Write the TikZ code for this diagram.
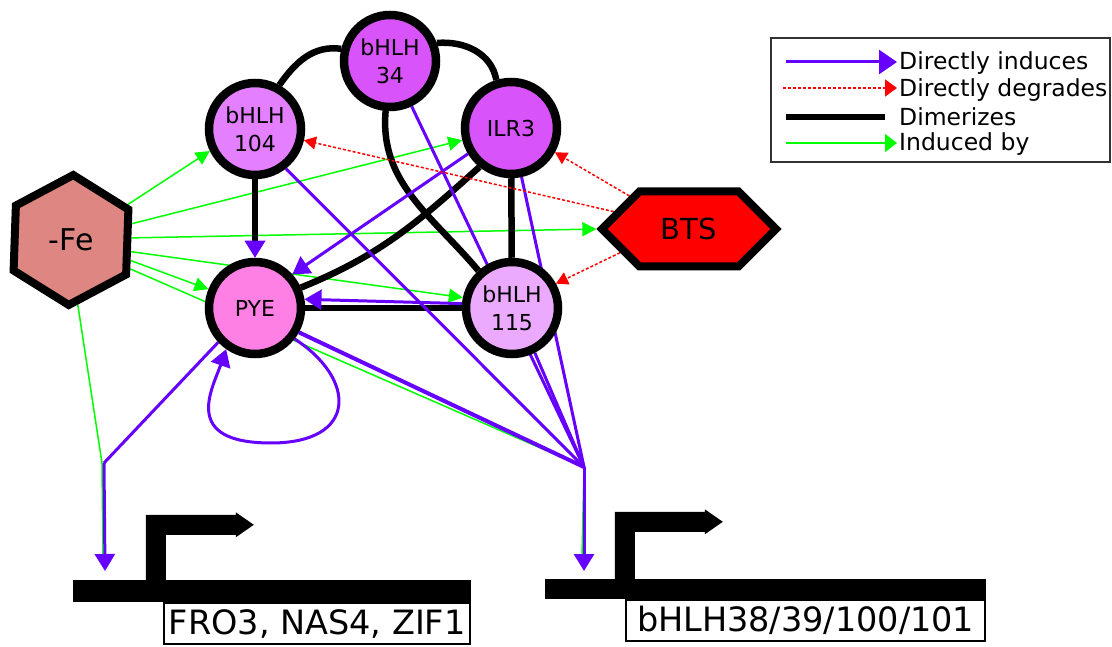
\documentclass[tikz,border=0pt]{standalone}
\usepackage{fontspec}
\setmainfont{DejaVu Sans}
\usepackage{tikz}
\usetikzlibrary{shapes.geometric, shapes.symbols, arrows.meta, positioning, calc}
\definecolor{indpurple}{RGB}{102,0,255}
\definecolor{degred}{RGB}{255,0,0}
\definecolor{indgreen}{RGB}{0,255,0}
\definecolor{fefill}{RGB}{221,134,130}
\definecolor{tfdark}{RGB}{216,84,250}
\definecolor{tfmid}{RGB}{228,128,255}
\definecolor{tfpink}{RGB}{255,128,229}
\definecolor{tflight}{RGB}{236,170,255}
\pgfdeclarelayer{bg}
\pgfsetlayers{bg,main}
\tikzset{
  tf/.style={circle, draw=black, line width=8.5pt, minimum size=92pt, inner sep=0pt, align=center,
    font=\fontsize{22}{28}\selectfont},
  genebar/.style={rectangle, fill=black, inner sep=0pt},
  genelbl/.style={rectangle, draw=black, fill=white, line width=2pt, inner xsep=4pt, inner ysep=6pt,
    font=\fontsize{33.5}{36}\selectfont},
  legtxt/.style={anchor=base west, inner sep=0pt, font=\fontsize{23.5}{26}\selectfont}
}

\begin{document}
\begin{tikzpicture}[
  x=1pt, y=1pt,
  ind/.style={draw=indpurple, line width=3pt},
  indarr/.style={ind, -{Triangle[length=17pt, width=20pt]}},
  deg/.style={draw=degred, line width=1.5pt, dash pattern=on 3pt off 2pt, -{Triangle[length=12pt, width=13pt]}},
  dim/.style={draw=black, line width=6.5pt},
  byfe/.style={draw=indgreen, line width=1.5pt},
  byfearr/.style={byfe, -{Triangle[length=14pt, width=14pt]}}
]
\useasboundingbox (0,0) rectangle (1112,646);

%--- transcription factors ---
\node[tf, fill=tfdark]  (b34)  at (390,585) {bHLH\\34};
\node[tf, fill=tfmid]   (b104) at (255,517) {bHLH\\104};
\node[tf, fill=tfdark]  (ilr3) at (511,518) {ILR3};
\node[tf, fill=tfpink]  (pye)  at (255,338) {PYE};
\node[tf, fill=tflight] (b115) at (512,338) {bHLH\\115};

%--- signal and E3 ligase ---
\node[regular polygon, regular polygon sides=6, shape border rotate=28, draw=black, line width=8pt,
  fill=fefill, minimum size=130pt, inner sep=0pt, font=\fontsize{30}{32}\selectfont] (fe) at (71,406) {-Fe};
\node[signal, signal to=west and east, draw=black, line width=8pt, fill=degred,
  minimum width=174pt, minimum height=75pt, font=\fontsize{29}{32}\selectfont] (bts) at (689,417) {BTS};

%--- target genes ---
\node[genebar, minimum width=398pt, minimum height=22pt] (barL) at (272,55) {};
\node[genebar, minimum width=441pt, minimum height=20pt] (barR) at (765.5,57) {};
\node[genelbl, below left=0pt and 0pt of barL.south east, minimum width=306pt] (lblL) {FRO3, NAS4, ZIF1};
\node[genelbl, below left=0pt and 0pt of barR.south east, minimum width=359pt] (lblR) {bHLH38/39/100/101};
\foreach \g/\dx/\h in {L/73/65, R/70/67} {
  \fill (bar\g.north west) ++(\dx,0) -- ++(0,\h) -- ++(90,0) -- ++(0,2.5) -- ++(18,-12.5)
    -- ++(-18,-12.5) -- ++(0,2.5) -- ++(-70,0) -- ++(0,-\h+20) -- cycle;
}

\coordinate (jL) at (104,183);
\coordinate (jR) at (584,179);
\coordinate (tipL) at (105,75);
\coordinate (tipR) at (584,75);
\coordinate (loopB) at (271,203);

\begin{pgfonlayer}{bg}
\fill[white] (0,0) rectangle (1112,646);
%--- induced by -Fe ---
\draw[byfearr] (fe.32)  -- (b104.206);
\draw[byfearr] (fe.15)  -- (ilr3.194);
\draw[byfearr] (fe.2)   -- (bts.west);
\draw[byfearr] (fe.-11) -- (b115.168);
\draw[byfearr] (fe.-19) -- (pye.158);
\draw[byfe] (fe.-26) -- (jR) -- ([xshift=-2pt, yshift=14pt]tipR);
\draw[byfe] (fe.-84) -- ([xshift=-2pt]jL) -- ([xshift=-2pt, yshift=14pt]tipL);

%--- dimers ---
\draw[dim] (b104.61) to[out=55, in=172] (b34.166);
\draw[dim] (b34.21) to[out=5, in=100] (ilr3.107);
\draw[dim] (b34.-95) to[out=-95, in=130] (b115.132);
\draw[dim] (ilr3.231) to[out=222, in=22] (pye.24);
\draw[dim] (ilr3) -- (b115);
\draw[dim] (pye) -- (b115);
\draw[dim, -{Triangle[length=17pt, width=21pt, line width=0pt, color=indpurple]}] (b104) -- (pye);

%--- direct induction ---
\draw[indarr] (ilr3.211) -- (pye.42);
\draw[indarr] (b115.175) -- (pye.10);
\draw[ind] (b104.-52) -- (jR);
\draw[ind] (b34) -- (jR);
\draw[ind] (ilr3) -- (jR);
\draw[ind] (b115.-63) -- (jR);
\draw[ind, line width=4pt] (pye.-29) -- (jR);
\draw[indarr] (jR) -- (tipR);
\draw[ind] (pye.223) -- (jL);
\draw[indarr] (jL) -- (tipL);
% PYE induces itself
\draw[indarr] (pye.-38) .. controls +(62,-40) and +(87,0) .. (loopB)
  .. controls +(-90,0) and +(-14,-40) .. (pye.235);

%--- degradation by BTS ---
\draw[deg] (bts.167) -- (b104.-13);
\draw[deg] (bts.151) -- (ilr3.-29);
\draw[deg] (bts.199) -- (b115.29);
\end{pgfonlayer}

%--- legend ---
\draw[line width=1.5pt, draw=black!80] (771,608) rectangle (1110,484);
\node[legtxt] (leg1) at (899,576) {Directly induces};
\node[legtxt] (leg2) at (899,549) {Directly degrades};
\node[legtxt] (leg3) at (899,520) {Dimerizes};
\node[legtxt] (leg4) at (899,495) {Induced by};
\draw[ind, -{Triangle[length=18pt, width=24pt]}] ([xshift=-113pt, yshift=8pt]leg1.base west) -- ([xshift=-2pt, yshift=8pt]leg1.base west);
\draw[deg, -{Triangle[length=12pt, width=17pt]}] ([xshift=-116pt, yshift=9pt]leg2.base west) -- ([xshift=-2pt, yshift=9pt]leg2.base west);
\draw[dim] ([xshift=-113pt, yshift=9pt]leg3.base west) -- ([xshift=-14pt, yshift=9pt]leg3.base west);
\draw[byfe, -{Triangle[length=12pt, width=18pt]}] ([xshift=-113pt, yshift=8pt]leg4.base west) -- ([xshift=-2pt, yshift=8pt]leg4.base west);
\end{tikzpicture}
\end{document}
